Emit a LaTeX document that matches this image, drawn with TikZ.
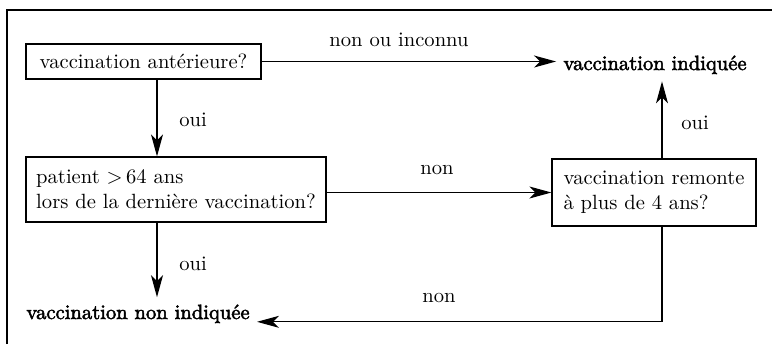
\documentclass[tikz,border=0pt]{standalone}
\usepackage{fontspec}
\usetikzlibrary{arrows.meta}
\newcommand\heavytext[1]{\special{pdf:literal direct 2 Tr 0.25 w}#1\special{pdf:literal direct 0 Tr}}
\begin{document}
\begin{tikzpicture}[x=0.5pt,y=-0.5pt,
  every node/.style={font=\fontsize{10.3}{12.5}\selectfont},
  box/.style={draw, line width=0.6pt, inner sep=0pt, align=left},
  lbl/.style={inner sep=0pt},
  res/.style={inner sep=3.5pt},
  conn/.style={line width=0.6pt, -{Stealth[length=11pt,width=6pt,inset=3pt]}},
  plain/.style={line width=0.6pt}]
\useasboundingbox (0,0) rectangle (772,344);
\draw[line width=0.7pt] (7,344) -- (7,10) -- (772,10);

\node[box, minimum width=117.5pt, minimum height=17.5pt] (box1) at (143.5,61.5) {vaccination antérieure?};
\node[box, minimum width=150pt, minimum height=32.5pt] (box2) at (176,189.5) {patient >\,64 ans\\lors de la dernière vaccination?};
\node[box, minimum width=102pt, minimum height=33.5pt] (box3) at (654,192.5) {vaccination remonte\\à plus de 4 ans?};
\node[res, anchor=base] (ind) at (655,70) {\heavytext{vaccination indiquée}};
\node[res, anchor=base west] (nonind) at (19,319) {\heavytext{vaccination non indiquée}};

\coordinate (c1) at ([xshift=6.75pt]box1.south);
\coordinate (c2) at ([xshift=-9.5pt]box2.south);
\coordinate (c3) at ([xshift=4pt]box3.north);
\coordinate (c4) at ([xshift=4pt]box3.south);
\coordinate (c5) at ([yshift=-4pt]nonind.east);

\draw[conn] (box1.east) -- (ind.west |- box1.east);
\draw[conn] (c1) -- (c1 |- box2.north);
\draw[conn] (box3.west -| box2.east) -- (box3.west);
\draw[conn] (c3) -- (c3 |- ind.south);
\draw[conn] (c2) -- (c2 |- nonind.north);
\draw[conn] (c4) |- (c5);

\node[lbl] (l1) at (399,40) {non ou inconnu};
\node[lbl] (l2) at (193,120) {oui};
\node[lbl] (l3) at (193,264) {oui};
\node[lbl] (l4) at (695,123) {oui};
\node[lbl] (l5) at (437,170) {non};
\node[lbl] (l6) at (439,298) {non};
\end{tikzpicture}
\end{document}
